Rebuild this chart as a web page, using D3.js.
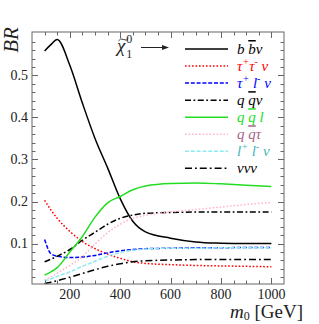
<!DOCTYPE html>
<html><head><meta charset="utf-8">
<script src="https://cdn.jsdelivr.net/npm/d3@7"></script>
<style>body{margin:0;background:#fff}svg{display:block}</style>
</head><body>
<script>
const mass = [100,125,150,200,250,300,350,400,450,500,600,700,800,900,1000];
const bbnu   = [0.558,0.573,0.585,0.524,0.434,0.350,0.280,0.207,0.153,0.128,0.113,0.104,0.101,0.100,0.100];
const tautaunu = [0.203,0.180,0.160,0.129,0.105,0.088,0.075,0.065,0.057,0.053,0.050,0.048,0.047,0.046,0.045];
const taulnu = [0.110,0.076,0.070,0.067,0.068,0.072,0.078,0.083,0.086,0.088,0.089,0.090,0.090,0.091,0.091];
const qqnu   = [0.057,0.063,0.070,0.086,0.108,0.127,0.146,0.160,0.168,0.172,0.174,0.175,0.175,0.175,0.175];
const qql    = [0.025,0.033,0.043,0.080,0.117,0.163,0.197,0.212,0.228,0.237,0.243,0.244,0.242,0.239,0.236];
const qqtau  = [0.013,0.021,0.030,0.048,0.069,0.099,0.126,0.146,0.160,0.167,0.175,0.181,0.187,0.193,0.198];
const llnu   = [0.011,0.016,0.022,0.033,0.046,0.058,0.070,0.079,0.084,0.087,0.089,0.089,0.090,0.090,0.090];
const nununu = [0.005,0.008,0.012,0.020,0.029,0.038,0.046,0.052,0.057,0.059,0.061,0.062,0.062,0.062,0.062];
const xTicks = [200,400,600,800,1000];
const yTicks = [0.1,0.2,0.3,0.4,0.5];

// label parts: [text, kind] kind: "sup" superscript, "bar" overlined
const series = [
  {v:bbnu, color:"#000", lab:"#000", dash:null, label:[["b "],["b","bar"],["ν"]]},
  {v:tautaunu, color:"#ff0000", lab:"#ff0000", dash:"1.6,1.9", label:[["τ"],["+","sup"],["τ"],["-","sup"],[" ν"]]},
  {v:taulnu, color:"#0000ff", lab:"#0000ff", dash:"4,1.8", label:[["τ"],["+","sup"],[" l"],["-","sup"],[" ν"]]},
  {v:qqnu, color:"#000", lab:"#000", dash:"6,2.5,1.8,2.5", label:[["q "],["q","bar"],["ν"]]},
  {v:qql, color:"#22dd22", lab:"#22dd22", dash:null, label:[["q "],["q","bar"],[" l"]]},
  {v:qqtau, color:"#ffb6cc", lab:"#a8628c", dash:"1.6,1.9", label:[["q "],["q","bar"],["τ"]]},
  {v:llnu, color:"#8eeaf0", lab:"#44b4b8", dash:"4,1.8", label:[["l"],["+","sup"],[" l"],["-","sup"],[" ν"]]},
  {v:nununu, color:"#000", lab:"#000", dash:"7,3,1.8,3", label:[["ννν"]]}
];

const W=319,H=324;
const L=32,R=284,T=32,B=284;
const svg=d3.select("body").append("svg").attr("width",W).attr("height",H);
const x=d3.scaleLinear().domain([50,1050]).range([L,R]);
const y=d3.scaleLinear().domain([0.004,0.603]).range([B,T]);
const serif="'Liberation Serif','DejaVu Serif',serif";

svg.append("defs").append("clipPath").attr("id","c").append("rect")
  .attr("x",L).attr("y",T).attr("width",R-L).attr("height",B-T);

const line=d3.line().x((d,i)=>x(mass[i])).y(d=>y(d)).curve(d3.curveMonotoneX);
const g=svg.append("g").attr("clip-path","url(#c)");
series.forEach(s=>{
  g.append("path").attr("d",line(s.v)).attr("fill","none").attr("stroke",s.color)
   .attr("stroke-width",1.5).attr("stroke-dasharray",s.dash);
});

// frame
svg.append("rect").attr("x",L).attr("y",T).attr("width",R-L).attr("height",B-T)
  .attr("fill","none").attr("stroke","#666").attr("stroke-width",1);

// ticks
const tk=svg.append("g").attr("stroke","#666").attr("stroke-width",1);
d3.range(100,1050,50).forEach(m=>{
  const len = (m%200===0)?6:3.5;
  const px=Math.round(x(m))+0.5;
  tk.append("line").attr("x1",px).attr("x2",px).attr("y1",B).attr("y2",B-len);
  tk.append("line").attr("x1",px).attr("x2",px).attr("y1",T).attr("y2",T+len);
});
d3.range(1,30).map(i=>i*0.02).forEach((v,i)=>{
  if(v>0.6) return;
  const major = (i+1)%5===0;
  const len = major?6:3.5;
  const py=Math.round(y(v))+0.5;
  tk.append("line").attr("x1",L).attr("x2",L+len).attr("y1",py).attr("y2",py);
  tk.append("line").attr("x1",R).attr("x2",R-len).attr("y1",py).attr("y2",py);
});

// tick labels
xTicks.forEach(t=>svg.append("text").attr("x",x(t)).attr("y",298.5).attr("text-anchor","middle")
  .attr("font-family",serif).attr("font-size",14).attr("fill","#222").text(t));
yTicks.forEach(t=>svg.append("text").attr("x",28).attr("y",y(t)+4.5).attr("text-anchor","end")
  .attr("font-family",serif).attr("font-size",14).attr("fill","#222").text(t.toFixed(1)));

// axis titles
svg.append("text").attr("transform","translate(18,40) rotate(-90)").attr("text-anchor","middle")
  .attr("font-family",serif).attr("font-size",21).attr("font-style","italic").attr("fill","#222").text("BR");
const xt=svg.append("text").attr("x",303).attr("y",318).attr("text-anchor","end")
  .attr("font-family",serif).attr("font-size",19).attr("fill","#222");
xt.append("tspan").attr("font-style","italic").text("m");
xt.append("tspan").attr("font-size",12).attr("dy",2).text("0");
xt.append("tspan").attr("dy",-2).text(" [GeV]");

// chi label and arrow
const ch=svg.append("text").attr("x",117).attr("y",52).attr("font-family",serif)
  .attr("font-size",19).attr("fill","#222");
ch.append("tspan").attr("font-style","italic").text("χ");
ch.append("tspan").attr("font-size",12).attr("dy",-9).attr("dx",1).text("0");
ch.append("tspan").attr("font-size",12).attr("dx",-6).attr("dy",15).text("1");
svg.append("path").attr("d","M118.5,41 Q120.5,37.5 123.5,39.5 Q126.5,41.5 128.5,38")
  .attr("fill","none").attr("stroke","#222").attr("stroke-width",0.9);
svg.append("line").attr("x1",141).attr("x2",164).attr("y1",47.5).attr("y2",47.5).attr("stroke","#222").attr("stroke-width",1);
svg.append("path").attr("d","M169,47.5 L162,45 L162,50 Z").attr("fill","#222");

// legend
series.forEach((s,i)=>{
  const ly=49+i*17.05;
  svg.append("line").attr("x1",185).attr("x2",228).attr("y1",ly).attr("y2",ly)
    .attr("stroke",s.color).attr("stroke-width",1.5).attr("stroke-dasharray",s.dash);
  const t=svg.append("text").attr("x",237).attr("y",ly+5).attr("font-family",serif)
    .attr("font-size",15).attr("font-style","italic").attr("fill",s.lab);
  let sup=false;
  s.label.forEach(p=>{
    const ts=t.append("tspan").text(p[0]);
    if(p[1]==="sup"){ts.attr("font-size",10).attr("dy",-6);sup=true;}
    else { if(sup){ts.attr("dy",6);sup=false;} }
    if(p[1]==="bar"){ts.attr("text-decoration","overline");}
  });
});
</script>
</body></html>
